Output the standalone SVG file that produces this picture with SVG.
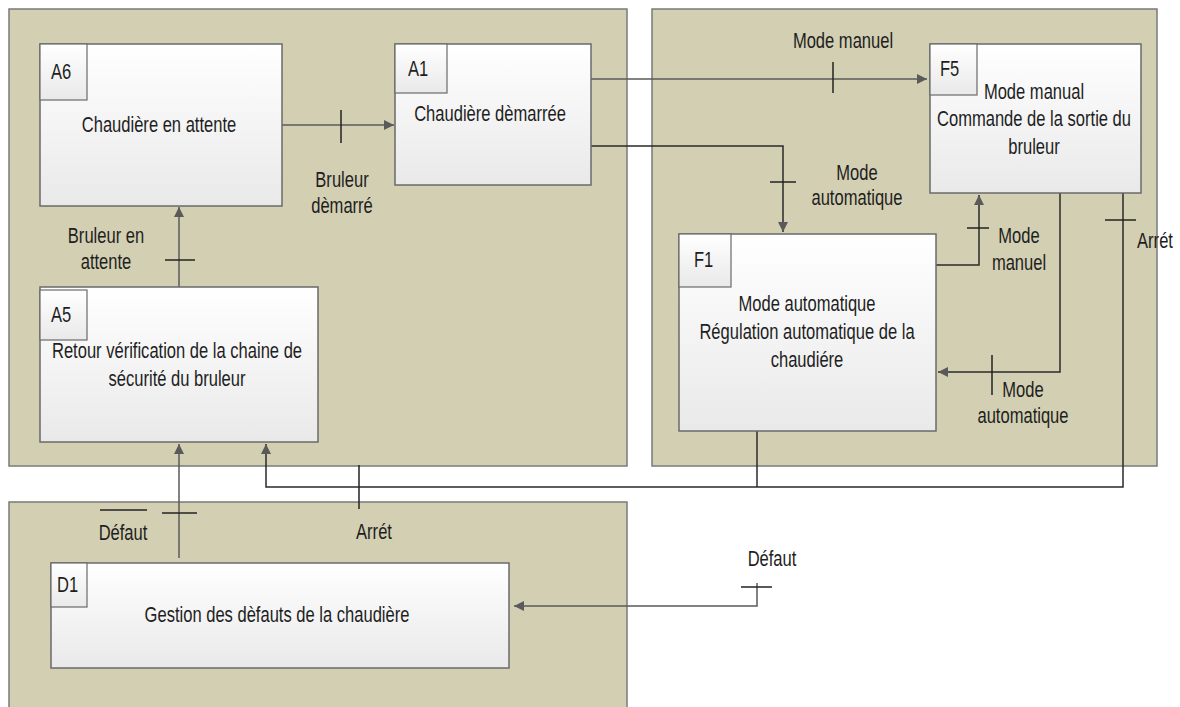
<svg xmlns="http://www.w3.org/2000/svg" width="1180" height="707" viewBox="0 0 1180 707">
<defs>
<linearGradient id="boxg" x1="0" y1="0" x2="0" y2="1">
<stop offset="0" stop-color="#ffffff"/>
<stop offset="1" stop-color="#e9e9e9"/>
</linearGradient>
<marker id="ah" viewBox="0 0 10 10" refX="10" refY="5" markerWidth="10" markerHeight="10" markerUnits="userSpaceOnUse" orient="auto">
<path d="M0,0 L10,5 L0,10 z" fill="#5a5a5a"/>
</marker>
</defs>
<style>
.panel{fill:#d3cfb2;stroke:#7a7a7a;stroke-width:1.5}
.box{fill:url(#boxg);stroke:#6a6a6a;stroke-width:1.5}
.lbl{fill:url(#boxg);stroke:#6a6a6a;stroke-width:1.2}
text{font-family:"Liberation Sans",Arial,sans-serif;font-size:21.5px;fill:#1e1e1e}
.c{text-anchor:middle}
.ln{fill:none;stroke:#5a5a5a;stroke-width:1.5}
.dk{fill:none;stroke:#2a2a2a;stroke-width:1.5}
.tk{stroke:#222;stroke-width:1.5}
</style>
<rect width="1180" height="707" fill="#ffffff"/>
<g id="panels">
<rect class="panel" x="9" y="9" width="618" height="457"/>
<rect class="panel" x="652" y="9" width="505" height="457"/>
<rect class="panel" x="9" y="502" width="618" height="220"/>
</g>
<g id="connectors">
<path class="ln" d="M282,125 H394" marker-end="url(#ah)"/>
<line class="tk" x1="341" y1="110" x2="341" y2="143"/>
<path class="ln" d="M179,287 V207" marker-end="url(#ah)"/>
<line class="tk" x1="165" y1="260" x2="195" y2="260"/>
<path class="ln" d="M591,79 H927" marker-end="url(#ah)"/>
<line class="tk" x1="833" y1="62" x2="833" y2="93"/>
<path class="dk" d="M589,146 H783 V232" marker-end="url(#ah)"/>
<line class="tk" x1="770" y1="182" x2="796" y2="182"/>
<path class="dk" d="M936,265 H979 V195" marker-end="url(#ah)"/>
<line class="tk" x1="967" y1="228" x2="989" y2="228"/>
<path class="dk" d="M1060,193 V372 H938" marker-end="url(#ah)"/>
<line class="tk" x1="992" y1="355" x2="992" y2="395"/>
<path class="dk" d="M1123,193 V487 H266 V444" marker-end="url(#ah)"/>
<line class="tk" x1="1105" y1="220" x2="1136" y2="220"/>
<path class="dk" d="M757,431 V487"/>
<line class="tk" x1="359" y1="465" x2="359" y2="509"/>
<path class="ln" d="M179,558 V444" marker-end="url(#ah)"/>
<line class="tk" x1="162" y1="513" x2="197" y2="513"/>
<path class="ln" d="M757,583 V606 H514" marker-end="url(#ah)"/>
<line class="tk" x1="741" y1="587" x2="772" y2="587"/>
</g>
<g id="connector-labels">
<text class="c" transform="translate(342,187) scale(0.77,1)"><tspan x="0">Bruleur</tspan><tspan x="0" dy="26">dèmarré</tspan></text>
<text class="c" transform="translate(106,243) scale(0.77,1)"><tspan x="0">Bruleur en</tspan><tspan x="0" dy="26">attente</tspan></text>
<text class="c" transform="translate(843,48) scale(0.77,1)">Mode manuel</text>
<text class="c" transform="translate(857,180) scale(0.77,1)"><tspan x="0">Mode</tspan><tspan x="0" dy="25">automatique</tspan></text>
<text class="c" transform="translate(1019,243) scale(0.77,1)"><tspan x="0">Mode</tspan><tspan x="0" dy="27">manuel</tspan></text>
<text class="c" transform="translate(1155,248) scale(0.77,1)">Arrét</text>
<text class="c" transform="translate(1023,397) scale(0.77,1)"><tspan x="0">Mode</tspan><tspan x="0" dy="26">automatique</tspan></text>
<line class="tk" x1="100" y1="510" x2="147" y2="510"/>
<text class="c" transform="translate(123,540) scale(0.77,1)">Défaut</text>
<text class="c" transform="translate(374,539) scale(0.77,1)">Arrét</text>
<text class="c" transform="translate(772,566) scale(0.77,1)">Défaut</text>
</g>
<g id="A6">
<rect class="box" x="40" y="44" width="242" height="162"/>
<rect class="lbl" x="40" y="44" width="47" height="56"/>
<text transform="translate(51,79) scale(0.77,1)">A6</text>
<text class="c" transform="translate(159,132) scale(0.77,1)">Chaudière en attente</text>
</g>
<g id="A1">
<rect class="box" x="395" y="44" width="196" height="141"/>
<rect class="lbl" x="395" y="44" width="52" height="49"/>
<text transform="translate(408,76) scale(0.77,1)">A1</text>
<text class="c" transform="translate(490,121) scale(0.77,1)">Chaudière dèmarrée</text>
</g>
<g id="A5">
<rect class="box" x="40" y="287" width="278" height="155"/>
<rect class="lbl" x="40" y="290" width="47" height="50"/>
<text transform="translate(51,322) scale(0.77,1)">A5</text>
<text class="c" transform="translate(177,358) scale(0.77,1)"><tspan x="0">Retour vérification de la chaine de</tspan><tspan x="0" dy="28">sécurité du bruleur</tspan></text>
</g>
<g id="F5">
<rect class="box" x="930" y="44" width="211" height="149"/>
<rect class="lbl" x="930" y="44" width="47" height="51"/>
<text transform="translate(940,76) scale(0.77,1)">F5</text>
<text class="c" transform="translate(1034,99) scale(0.77,1)"><tspan x="0">Mode manual</tspan><tspan x="0" dy="27">Commande de la sortie du</tspan><tspan x="0" dy="28">bruleur</tspan></text>
</g>
<g id="F1">
<rect class="box" x="679" y="234" width="257" height="197"/>
<rect class="lbl" x="679" y="234" width="52" height="53"/>
<text transform="translate(694,267) scale(0.77,1)">F1</text>
<text class="c" transform="translate(807,311) scale(0.77,1)"><tspan x="0">Mode automatique</tspan><tspan x="0" dy="28">Régulation automatique de la</tspan><tspan x="0" dy="28">chaudiére</tspan></text>
</g>
<g id="D1">
<rect class="box" x="51" y="563" width="458" height="105"/>
<rect class="lbl" x="51" y="563" width="36" height="44"/>
<text transform="translate(57,592) scale(0.77,1)">D1</text>
<text class="c" transform="translate(277,622) scale(0.77,1)">Gestion des dèfauts de la chaudière</text>
</g>
</svg>
